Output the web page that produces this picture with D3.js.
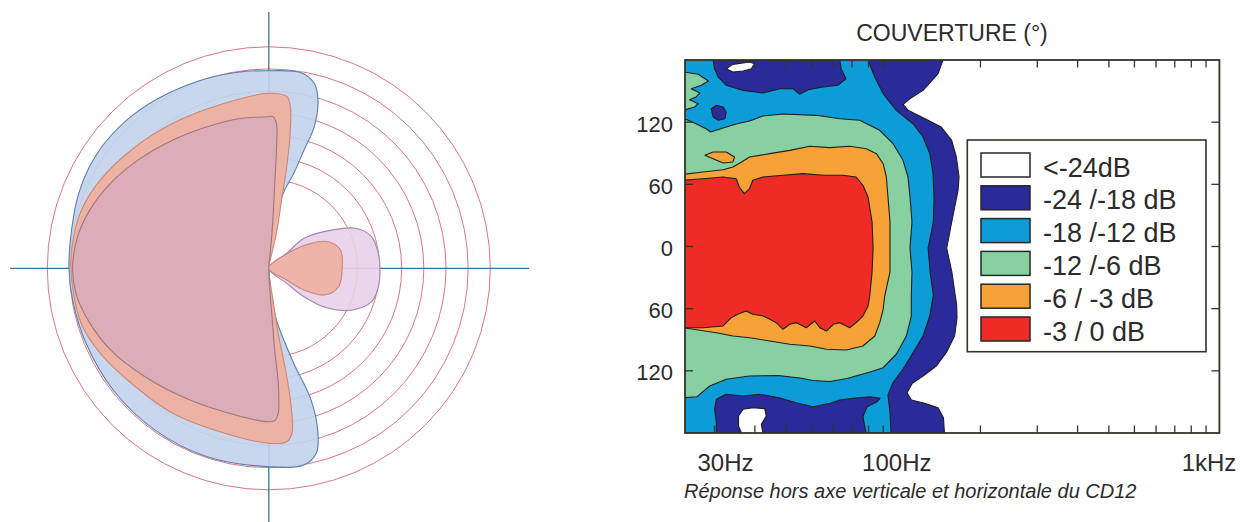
<!DOCTYPE html>
<html><head><meta charset="utf-8">
<script src="https://cdn.jsdelivr.net/npm/d3@7"></script>
<style>
html,body{margin:0;padding:0;background:#fff;}
svg{display:block;}
text{font-family:"Liberation Sans",Arial,Helvetica,sans-serif;fill:#2b2b2b;}
</style></head><body>
<svg id="chart" width="1245" height="522"></svg>
<script>
// ================= DATA =================
// Polar plot: visible concentric rings (ring units) and shapes as [angle deg (0 = right, CCW), radius in ring units]
const ringValues = [4,5,6,7,8,9,10];
const polarBlue = [[0,0],[85.2,1.28],[81.6,2.36],[79.1,3.45],[75.3,4.43],[73.4,5.57],[72.2,6.72],[73.7,7.91],[76.2,8.60],[80.8,8.95],[90,8.92],[97.8,8.96],[107.9,9.02],[120.5,9.12],[131.6,9.25],[142.2,9.32],[150.9,9.30],[158.7,9.22],[168.1,9.08],[180,9.02],[189.2,8.97],[202.4,8.92],[218.2,8.92],[235,8.93],[251.9,8.95],[270,8.96],[280.1,9.02],[284.4,8.62],[286.6,7.77],[287.8,6.24],[284.7,4.43],[278.4,2.36],[275.5,1.13]];
const polarSalmon = [[0,0],[80,0.4],[77.7,1.62],[79.4,3.14],[80,4.66],[81,6.17],[82.4,7.36],[84,7.79],[90,7.90],[105,7.71],[123.5,7.85],[139.3,8.19],[152.4,8.59],[161.7,8.84],[169.8,8.92],[180,8.94],[196.3,8.83],[206.8,8.52],[219.9,8.09],[236.5,7.85],[255,7.71],[270,7.90],[275.9,7.87],[278,7.52],[279.3,6.02],[279.3,4.50],[278.2,2.97],[277.5,1.44]];
const polarPink = [[0,0],[84.4,0.83],[85.3,2.34],[86,3.85],[86.3,5.35],[87,6.56],[88.4,6.85],[90,6.84],[100.2,6.88],[113.5,6.97],[126.8,7.23],[140.3,7.66],[151.7,8.11],[162,8.50],[170.6,8.75],[180,8.86],[187.4,8.78],[196,8.49],[207.3,8.04],[221.2,7.43],[239.1,6.93],[259.7,6.81],[270,6.93],[272.2,6.88],[273.7,6.56],[274.7,5.21],[274.1,3.70],[273.8,2.19]];
const polarRearLobe = [[0,0],[39.8,1.06],[40.4,2.09],[31.3,3.32],[24.7,4.32],[17.1,4.85],[7.8,4.99],[0,5.02],[350.5,5.02],[342,4.88],[333.5,4.22],[326.1,3.24],[321.1,2.04],[320.2,1.06]];
const polarRearInner = [[0,0],[36.3,1.40],[30.6,2.21],[24.1,2.94],[14.3,3.34],[0,3.31],[345.2,3.26],[334.5,2.80],[328.3,1.87],[327,0.97]];

// Coverage map: contour regions as [frequency Hz, angle deg]
const freqTicks = [30,40,50,60,70,80,90,100,200,300,400,500,600,700,800,900,1000];
const freqLabelValues = [30,100,1000];
const freqLabelTexts = ["30Hz","100Hz","1kHz"];
const angleTicks = [-120,-60,0,60,120];
const angleLabelTexts = ["120","60","0","60","120"];

const navyBand = [[24,180],[153.1,180],[147.8,166.8],[132.8,150.7],[120.8,142.6],[115.2,137.2],[119.3,131.4],[132.8,124.3],[151.3,115.3],[162.9,102.5],[168.4,86.4],[171.7,67.1],[170.5,54.5],[163,23.9],[157.2,-1.7],[163,-24.3],[168.8,-56.5],[169.2,-69],[166.3,-86.4],[156.7,-102.5],[146,-115.3],[132.8,-125],[123,-132],[118.5,-141.1],[122.2,-148.1],[134.4,-151.3],[147.8,-155.6],[153.6,-165.2],[154.7,-180],[24,-180]];
const whiteTop = [[32.6,171.6],[34.2,175.8],[38.5,178.1],[39.9,176.4],[39,171.6],[36.8,169.4],[34.2,168.4]];
const whiteBottom = [[35.6,-163.6],[36.8,-157.1],[39.5,-155.6],[42.9,-156.5],[43.4,-163.6],[41.9,-171.6],[42.4,-180.5],[36.4,-180.5],[35.6,-173.2]];
const cyanBand = [[24,180],[29.7,180],[30,171.6],[30.8,163.6],[32.6,155.6],[36.8,150.7],[42.4,148.1],[47.8,152.3],[52.5,152.3],[55.1,146.9],[58.5,151.3],[65.1,153.9],[72.4,155.6],[76.6,161.9],[74,171.6],[73.3,180],[89.7,180],[94.1,163.6],[99.9,147.5],[109.7,131.4],[123.6,118.5],[132.8,105.7],[139.3,89.6],[142.6,70.3],[143.6,47.8],[142.9,23.6],[137.7,-1.4],[139.6,-24.3],[142.9,-46.8],[139.3,-67.1],[132.8,-86.4],[123.6,-102.5],[115.1,-118.5],[107.2,-131.4],[103.4,-143.3],[104.9,-160.7],[105.7,-180],[88.4,-180],[86.5,-164.3],[89,-154.6],[95.6,-149.8],[97.7,-146.5],[91,-145],[80.6,-146.5],[73.4,-148.1],[68.4,-151.3],[60.6,-154.6],[54,-151],[47.9,-146.2],[41.4,-142.6],[36.8,-144.3],[32.6,-142.6],[30.4,-147.5],[30,-157.1],[30.4,-170.1],[30.4,-180],[24,-180]];
const navyIsland = [[29.3,133],[30.4,136.3],[31.9,134.6],[32.6,129.8],[32.3,123.3],[30.8,121.8],[29.7,125]];
const greenTongue = [[24,168.4],[26.7,166.2],[28.7,159.8],[27.3,155.7],[25.4,152.3],[27,148.1],[26.3,144.3],[25.1,141.7],[26.7,137.8],[26,134.6],[24,131.4]];
const greenBand = [[24,124],[26.3,118.5],[28.3,113.4],[29.2,110.5],[31.9,114.4],[35,118.2],[38.5,121.1],[42.4,125.9],[48.9,127.9],[62,126.6],[73.3,123.3],[84.5,121.8],[97.5,112.1],[107.2,99.2],[115.1,83.2],[119.3,67.1],[121,47.8],[122.7,23.6],[121,-1.4],[122.7,-24.6],[122.1,-47.8],[122.1,-67.1],[117.9,-86.4],[109.7,-104],[99.9,-117],[91,-121.1],[77.2,-127.4],[68.4,-130.3],[60.6,-129.3],[55.1,-126.9],[47.2,-124.5],[38.5,-125],[32.6,-128.2],[29,-134.6],[27.6,-140],[26.5,-145],[24,-146]];
const orangeBand = [[24,69.7],[27.6,71.9],[31.9,74.1],[34.2,76.7],[36.4,81.6],[38.5,86.4],[44.5,89.6],[51.3,92.8],[59.2,96.7],[68.3,95.4],[78.7,96.7],[88.6,94.4],[95.2,89.6],[99.9,79.9],[102.2,67.1],[103.4,47.8],[104.9,23.6],[104.9,-1.4],[104.9,-24.6],[101,-47.8],[99.9,-60.6],[97.5,-73.5],[94.1,-86.4],[86.5,-96],[76.8,-99.9],[66.7,-99.2],[59.2,-96],[51.3,-94.4],[44.5,-91.2],[38.5,-88],[34.2,-86.4],[30.4,-83.2],[24,-78.4]];
const orangeIsland = [[28,88],[29.7,91.2],[32.6,91.2],[34.6,86.4],[34.2,81.6],[31.9,80.6],[29.7,84.7]];
const redCore = [[24,63.9],[27.6,65.4],[31.9,67.1],[35,65.4],[35.8,57.4],[37.1,51],[38.5,55.8],[39.4,63.9],[42.4,67.1],[48.9,68.7],[56.4,70.3],[65.1,68.7],[74.9,68.7],[82.4,67.1],[86.5,59.1],[89.7,47.8],[92.3,23.6],[93,-1.4],[92.3,-24.6],[90.8,-47.8],[89.7,-57.4],[86.5,-67.1],[82.4,-73.5],[78.7,-78.4],[73.3,-73.5],[70,-75.1],[66.7,-81.6],[63.6,-78.4],[61.3,-71.9],[57.7,-78.4],[53.8,-73.5],[51.3,-75.1],[48.9,-79.9],[46.6,-73.5],[44.5,-70.3],[42.4,-67.1],[39.4,-65.4],[37.6,-62.2],[35.4,-65.4],[33.8,-68.7],[31.9,-76.7],[27.6,-78.4],[24,-78.4]];

const legendLabels = ["<-24dB","-24 /-18 dB","-18 /-12 dB","-12 /-6 dB","-6 / -3 dB","-3 / 0 dB"];
const levelColors = ["#ffffff","#2b2a9b","#0c9dd8","#86d0a2","#f6a236","#ee2b24"];

// ================= DRAW =================
const svg = d3.select("#chart");

// ---------- Polar plot ----------
const cx = 268.8, cy = 268.3;
const rScale = d3.scaleLinear().domain([0,10]).range([0,221.5]);
const aScale = d3.scaleLinear().domain([0,360]).range([Math.PI/2, Math.PI/2 - 2*Math.PI]);
const gP = svg.append("g").attr("transform", `translate(${cx},${cy})`);

gP.selectAll("circle.ring").data(ringValues).join("circle")
  .attr("class","ring").attr("r", d => rScale(d))
  .attr("fill","none").attr("stroke","#d9787c").attr("stroke-width",1);

gP.append("line").attr("x1", -rScale(11.68)).attr("x2", rScale(11.75)).attr("y1",0).attr("y2",0)
  .attr("stroke","#3d7299").attr("stroke-width",1.3);
gP.append("line").attr("x1",0).attr("x2",0).attr("y1", -rScale(11.57)).attr("y2", rScale(11.9))
  .attr("stroke","#3d7299").attr("stroke-width",1.3);

const radial = d3.lineRadial()
  .angle(d => aScale(d[0]))
  .radius(d => rScale(d[1]))
  .curve(d3.curveCatmullRomClosed.alpha(0.5));

const polarShapes = [
  {d: polarBlue, fill: "#c2d3eb", stroke: "#5a7fae", op: 0.9},
  {d: polarSalmon, fill: "#efb09e", stroke: "#cf8676", op: 0.92},
  {d: polarPink, fill: "#d9adb7", stroke: "#a27482", op: 0.92},
  {d: polarRearLobe, fill: "#e8d0e8", stroke: "#9d86b6", op: 0.9},
  {d: polarRearInner, fill: "#eeb1a3", stroke: "#c7857e", op: 0.92}
];
gP.selectAll("path.shape").data(polarShapes).join("path")
  .attr("class","shape")
  .attr("d", s => radial(s.d))
  .attr("fill", s => s.fill).attr("fill-opacity", s => s.op)
  .attr("stroke", s => s.stroke).attr("stroke-width", 1.1);

// ---------- Coverage map ----------
const x = d3.scaleLog().domain([24.3, 1100]).range([685, 1219.4]);
const y = d3.scaleLinear().domain([-180, 180]).range([433, 60]);
const [x0, x1] = x.range(), [y0, y1] = [y(180), y(-180)];

svg.append("clipPath").attr("id","plotClip").append("rect")
  .attr("x", x0).attr("y", y0).attr("width", x1 - x0).attr("height", y1 - y0);

const gH = svg.append("g").attr("clip-path","url(#plotClip)");
const contourLine = d3.line().x(d => x(d[0])).y(d => y(d[1])).curve(d3.curveLinearClosed);

const layers = [
  {d: navyBand, c: levelColors[1]},
  {d: whiteTop, c: levelColors[0]},
  {d: whiteBottom, c: levelColors[0]},
  {d: cyanBand, c: levelColors[2]},
  {d: navyIsland, c: levelColors[1]},
  {d: greenTongue, c: levelColors[3]},
  {d: greenBand, c: levelColors[3]},
  {d: orangeBand, c: levelColors[4]},
  {d: orangeIsland, c: levelColors[4]},
  {d: redCore, c: levelColors[5]}
];
gH.selectAll("path.band").data(layers).join("path")
  .attr("class","band")
  .attr("d", l => contourLine(l.d))
  .attr("fill", l => l.c)
  .attr("stroke","#1e1e1e").attr("stroke-width",1.1).attr("stroke-linejoin","round");

// frame
const frameColor = "#33332a";
svg.append("rect").attr("x", x0).attr("y", y0).attr("width", x1 - x0).attr("height", y1 - y0)
  .attr("fill","none").attr("stroke", frameColor).attr("stroke-width",1.8);

// ticks (inward)
const gT = svg.append("g").attr("stroke", frameColor).attr("stroke-width",1.3);
gT.selectAll("line.tt").data(freqTicks).join("line").attr("class","tt")
  .attr("x1", d => x(d)).attr("x2", d => x(d)).attr("y1", y0).attr("y2", y0 + 7.5);
gT.selectAll("line.tb").data(freqTicks).join("line").attr("class","tb")
  .attr("x1", d => x(d)).attr("x2", d => x(d)).attr("y1", y1).attr("y2", y1 - 7.5);
gT.selectAll("line.tr").data(angleTicks).join("line").attr("class","tr")
  .attr("x1", x1).attr("x2", x1 - 8).attr("y1", d => y(d)).attr("y2", d => y(d));
gT.selectAll("line.tl").data(angleTicks).join("line").attr("class","tl")
  .attr("x1", x0).attr("x2", x0 + 8).attr("y1", d => y(d)).attr("y2", d => y(d));

// axis labels
const labelNudge = [11, 13.5, 3];
svg.selectAll("text.xl").data(freqLabelValues).join("text").attr("class","xl")
  .attr("x", (d,i) => x(d) + labelNudge[i]).attr("y", y1 + 38)
  .attr("text-anchor","middle").attr("font-size",24)
  .text((d,i) => freqLabelTexts[i]);
svg.selectAll("text.yl").data(angleTicks).join("text").attr("class","yl")
  .attr("x", x0 - 12).attr("y", d => y(d) + 9.5)
  .attr("text-anchor","end").attr("font-size",22)
  .text((d,i) => angleLabelTexts[i]);

// title & caption
svg.append("text").attr("x", 952).attr("y", 41).attr("text-anchor","middle")
  .attr("font-size",23).text("COUVERTURE (°)");
svg.append("text").attr("x", 684).attr("y", 498).attr("font-size",20).attr("font-style","italic")
  .text("Réponse hors axe verticale et horizontale du CD12");

// legend
const lg = svg.append("g");
lg.append("rect").attr("x", 967.3).attr("y", 140).attr("width", 238.7).attr("height", 211.7)
  .attr("fill","#fff").attr("stroke", frameColor).attr("stroke-width",1.6);
const rows = lg.selectAll("g.row").data(legendLabels).join("g").attr("class","row")
  .attr("transform", (d,i) => `translate(981,${153 + i*32.8})`);
rows.append("rect").attr("width",49).attr("height",24)
  .attr("fill", (d,i) => levelColors[i]).attr("stroke","#262626").attr("stroke-width",1.5);
rows.append("text").attr("x", 62).attr("y", 23.5).attr("font-size",27).text(d => d);
</script>
</body></html>
